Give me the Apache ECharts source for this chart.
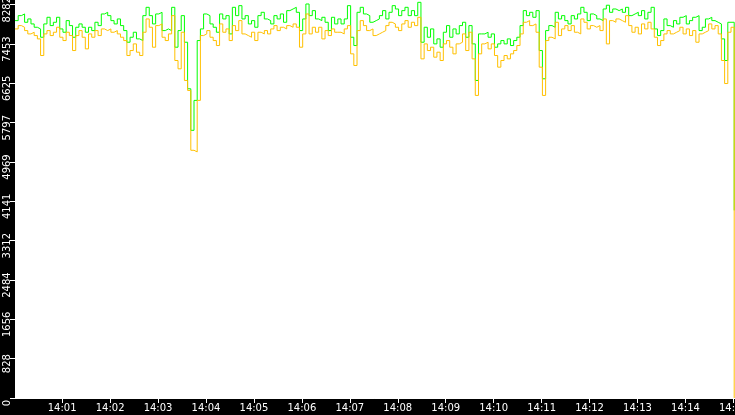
<!DOCTYPE html>
<html>
<head>
<meta charset="utf-8">
<script src="https://cdn.jsdelivr.net/npm/echarts@6/dist/echarts.min.js"></script>
<style>
  html, body { margin: 0; padding: 0; background: #000; }
  #main { width: 735px; height: 415px; }
</style>
</head>
<body>
<div id="main"></div>
<script>
// samples every 4 s starting 14:00:01 (seconds after 14:00:00)
var firstSecond = 1;
var stepSeconds = 4;

var greenValues = [
  7946, 8051, 8086, 7911, 7981, 7876, 7806, 7771, 7596, 7876,
  8016, 7841, 7911, 8016, 7771, 7701, 7946, 7841, 7596, 7806,
  7876, 7806, 7701, 7806, 7736, 7911, 7841, 8086, 8121, 8051,
  7946, 7876, 7981, 7841, 7736, 7491, 7596, 7701, 7561, 7526,
  8051, 8226, 8051, 7876, 8086, 8121, 7736, 7771, 7736, 8226,
  7386, 7736, 8051, 7491, 6511, 5636, 6266, 7526, 7771, 8086,
  8051, 7876, 7806, 7701, 8086, 7981, 8051, 7666, 8226, 8051,
  8261, 7981, 8051, 7876, 7946, 7806, 8051, 8121, 7981, 7946,
  7876, 8051, 7981, 8086, 7911, 8156, 8191, 8226, 8121, 7736,
  7981, 8296, 8051, 8156, 7981, 7946, 8016, 7911, 7736, 8016,
  7876, 7981, 7876, 7981, 8261, 7596, 7421, 8121, 8226, 8086,
  8051, 7911, 7946, 7981, 8051, 8156, 7981, 8121, 8261, 8191,
  8051, 8156, 8226, 8051, 8156, 8051, 8331, 7491, 7806, 7596,
  7771, 7456, 7561, 7386, 7701, 7841, 7596, 7771, 7666, 7841,
  7911, 7596, 7841, 7456, 6686, 7666, 7666, 7701, 7596, 7666,
  7386, 7456, 7526, 7456, 7561, 7421, 7526, 7596, 7841, 8156,
  8051, 8121, 8016, 8156, 7316, 6721, 7736, 7841, 7806, 8121,
  7981, 8051, 7946, 7876, 8051, 7981, 8086, 8226, 8121, 7946,
  8086, 8051, 7981, 7946, 8191, 8270, 8121, 8191, 8156, 8191,
  8121, 8226, 8051, 8086, 8121, 8051, 8156, 7981, 8121, 8226,
  7771, 7631, 7736, 7981, 7841, 7806, 7946, 7876, 8016, 8051,
  7876, 7946, 8016, 8051, 7736, 7806, 7981, 8016, 7946, 7911,
  7876, 7561, 7106, 7911, 7911, 3950
];

var orangeValues = [
  7771, 7841, 7806, 7736, 7666, 7701, 7631, 7561, 7211, 7666,
  7736, 7631, 7701, 7806, 7596, 7526, 7701, 7631, 7316, 7631,
  7736, 7596, 7351, 7666, 7596, 7736, 7631, 7771, 7736, 7771,
  7701, 7736, 7666, 7596, 7526, 7211, 7316, 7456, 7281, 7211,
  7701, 7981, 7806, 7386, 7841, 7876, 7596, 7526, 7666, 8051,
  7106, 6931, 7701, 6686, 6476, 5216, 5181, 6266, 7631, 7666,
  7736, 7596, 7526, 7421, 7876, 7701, 7771, 7526, 7841, 7736,
  7946, 7666, 7631, 7596, 7701, 7526, 7701, 7666, 7736, 7666,
  7771, 7841, 7736, 7806, 7771, 7841, 7806, 7876, 7806, 7386,
  7666, 8086, 7666, 7806, 7701, 7806, 7561, 7736, 7631, 7771,
  7701, 7701, 7666, 7771, 7841, 7246, 7001, 7736, 7946, 7841,
  7736, 7771, 7631, 7666, 7701, 7736, 7841, 7911, 7876, 7806,
  7736, 7876, 7946, 7806, 7911, 7841, 8016, 7141, 7456, 7316,
  7386, 7176, 7281, 7106, 7456, 7526, 7386, 7246, 7456, 7491,
  7666, 7316, 7701, 7141, 6371, 7246, 7456, 7491, 7351, 7456,
  7211, 6966, 7106, 7211, 7141, 7246, 7316, 7421, 7666, 7911,
  7946, 7841, 7876, 7701, 6966, 6371, 7526, 7596, 7561, 7911,
  7631, 7771, 7841, 7736, 7841, 7701, 7666, 7981, 7911, 7771,
  7841, 7806, 7841, 7736, 7981, 7456, 7946, 7911, 7981, 7946,
  7911, 8051, 7841, 7701, 7806, 7666, 7876, 7771, 7911, 7771,
  7596, 7421, 7526, 7666, 7736, 7666, 7701, 7736, 7806, 7666,
  7771, 7631, 7736, 7491, 7666, 7701, 7736, 7876, 7771, 7841,
  7666, 7106, 6621, 7701, 7806, 0
];

var xTickSeconds = [60, 120, 180, 240, 300, 360, 420, 480, 540, 600, 660, 720, 780, 840, 900];
var xTickLabels = ['14:01', '14:02', '14:03', '14:04', '14:05', '14:06', '14:07', '14:08',
  '14:09', '14:10', '14:11', '14:12', '14:13', '14:14', '14:15'];
var yTickValues = [0, 828, 1656, 2484, 3312, 4141, 4969, 5797, 6625, 7453, 8282];

function pairs(values) {
  return values.map(function (v, i) { return [firstSecond + stepSeconds * i, v]; });
}

var chart = echarts.init(document.getElementById('main'));
chart.setOption({
  animation: false,
  backgroundColor: '#000',
  textStyle: { fontFamily: 'DejaVu Sans' },
  grid: {
    left: 15, right: 0, top: 0, bottom: 17,
    outerBoundsMode: 'none',
    containLabel: false,
    show: true, backgroundColor: '#fff', borderWidth: 0
  },
  xAxis: {
    type: 'value',
    min: 1,
    max: 902,
    splitLine: { show: false },
    axisLine: { lineStyle: { color: '#fff', width: 1 } },
    axisTick: { customValues: xTickSeconds, length: 5, lineStyle: { color: '#fff' } },
    axisLabel: {
      customValues: xTickSeconds,
      color: '#fff', fontSize: 10, margin: 5,
      hideOverlap: false,
      formatter: function (v) { return xTickLabels[xTickSeconds.indexOf(v)]; }
    }
  },
  yAxis: {
    type: 'value',
    min: 0,
    max: 8380,
    splitLine: { show: false },
    axisLine: { show: true, lineStyle: { color: '#fff' } },
    axisTick: { customValues: yTickValues, length: 5, lineStyle: { color: '#fff' } },
    axisLabel: {
      customValues: yTickValues,
      color: '#fff', fontSize: 10, rotate: 90, margin: 3,
      padding: [0, 10, 0, 0],
      formatter: function (v) { return String(v); }
    }
  },
  series: [
    {
      name: 'green', type: 'line', step: 'end', showSymbol: false,
      data: pairs(greenValues),
      lineStyle: { color: '#00ff00', width: 1 },
      itemStyle: { color: '#00ff00' }
    },
    {
      name: 'orange', type: 'line', step: 'end', showSymbol: false,
      data: pairs(orangeValues),
      lineStyle: { color: '#ffc000', width: 1 },
      itemStyle: { color: '#ffc000' }
    }
  ]
});
</script>
</body>
</html>
